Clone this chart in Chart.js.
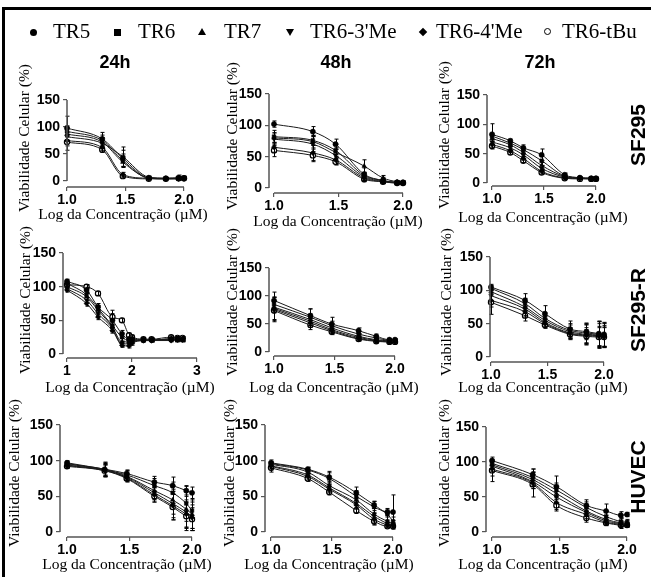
<!DOCTYPE html>
<html>
<head>
<meta charset="utf-8">
<script src="https://cdn.jsdelivr.net/npm/chart.js@4.4.1/dist/chart.umd.min.js"></script>
<style>
body { margin: 0; background: #fff; }
#fig { position: relative; width: 651px; height: 577px; overflow: hidden; background: #fff; }
#fig canvas { position: absolute; }
.lg { position: absolute; top: 20px; font-family: "Liberation Serif", serif; font-size: 21px; line-height: 22px; color: #000; white-space: nowrap; }
.mk { position: absolute; }
.col { position: absolute; top: 52px; font: bold 18px "Liberation Sans", Arial, sans-serif; transform: translateX(-50%); }
.row { position: absolute; font: bold 21px "Liberation Sans", Arial, sans-serif; transform: translate(-50%, -50%) rotate(-90deg); white-space: nowrap; }
.frameTop { position: absolute; left: 3px; top: 7px; width: 660px; height: 2.5px; background: #000; }
.frameLeft { position: absolute; left: 2px; top: 7px; width: 3px; height: 580px; background: #000; }
</style>
</head>
<body>
<div id="fig">
  <div class="frameTop"></div>
  <div class="frameLeft"></div>
</div>
<script>
const seriesNames = ['TR5', 'TR6', 'TR7', "TR6-3'Me", "TR6-4'Me", 'TR6-tBu'];
const timeLabels = ['24h', '48h', '72h'];
const cellLines = ['SF295', 'SF295-R', 'HUVEC'];
const yTicks = [0, 50, 100, 150];
const xTicks = [1, 1.5, 2];
const xTicksWide = [1, 2, 3];

// log10 of the concentrations (uM)
const logConc = [1, 1.301, 1.477, 1.699, 1.845, 1.954, 2];
const logConc15 = [1, 1.176, 1.301, 1.477, 1.699, 1.845, 1.954, 2];
const logConcWide = [1, 1.301, 1.477, 1.699, 1.845, 1.954, 2, 2.176, 2.301, 2.602, 2.699, 2.778];

// rows: TR5, TR6, TR7, TR6-3'Me, TR6-4'Me, TR6-tBu
const sf295_24 = [
  [98, 78, 42, 6, 5, 5, 5],
  [92, 75, 38, 5, 4, 4, 4],
  [87, 72, 35, 6, 5, 5, 5],
  [82, 70, 45, 7, 5, 6, 6],
  [75, 62, 12, 5, 4, 4, 4],
  [72, 58, 9, 4, 4, 5, 5]
];
const sf295_24_sd = [
  [22, 12, 15, 2, 1, 2, 2],
  [10, 10, 12, 2, 1, 1, 1],
  [12, 8, 10, 1, 1, 1, 1],
  [8, 10, 18, 2, 1, 5, 3],
  [10, 6, 4, 1, 1, 1, 1],
  [15, 5, 3, 1, 1, 2, 2]
];
const sf295_48 = [
  [102, 90, 70, 22, 12, 9, 9],
  [82, 76, 60, 20, 12, 9, 9],
  [80, 74, 57, 35, 16, 10, 9],
  [78, 70, 52, 18, 11, 9, 8],
  [65, 56, 45, 16, 10, 8, 8],
  [60, 52, 42, 14, 10, 8, 8]
];
const sf295_48_sd = [
  [5, 8, 8, 10, 5, 2, 2],
  [10, 8, 10, 5, 3, 2, 2],
  [8, 10, 8, 10, 4, 2, 2],
  [10, 12, 10, 5, 3, 2, 1],
  [8, 12, 8, 4, 2, 2, 1],
  [10, 10, 5, 4, 2, 1, 1]
];
const sf295_72 = [
  [83, 72, 60, 48, 14, 9, 8, 8],
  [80, 68, 57, 38, 12, 9, 8, 8],
  [76, 65, 52, 30, 11, 8, 8, 8],
  [70, 60, 48, 25, 10, 8, 8, 8],
  [66, 55, 42, 20, 9, 8, 7, 7],
  [63, 52, 38, 18, 8, 7, 7, 7]
];
const sf295_72_sd = [
  [18, 3, 5, 10, 3, 2, 2, 2],
  [5, 3, 4, 8, 3, 1, 1, 1],
  [5, 3, 4, 5, 2, 1, 1, 1],
  [5, 3, 3, 4, 2, 1, 1, 1],
  [5, 3, 3, 3, 2, 1, 1, 1],
  [5, 3, 3, 3, 2, 1, 1, 1]
];
const sf295r_24 = [
  [108, 95, 70, 50, 30, 22, 22, 21, 21, 22, 22, 22],
  [105, 88, 68, 42, 25, 20, 20, 21, 21, 22, 21, 21],
  [100, 85, 65, 40, 18, 18, 19, 20, 20, 21, 20, 20],
  [97, 80, 60, 38, 15, 15, 18, 20, 20, 23, 22, 22],
  [95, 75, 55, 35, 13, 12, 16, 20, 20, 20, 21, 21],
  [103, 100, 90, 55, 50, 28, 25, 22, 22, 25, 24, 24]
];
const sf295r_24_sd = [
  [3, 4, 5, 15, 5, 3, 3, 2, 2, 2, 2, 2],
  [3, 4, 4, 8, 6, 4, 3, 2, 2, 2, 2, 2],
  [3, 5, 4, 6, 5, 4, 3, 2, 2, 2, 2, 2],
  [3, 4, 5, 5, 4, 3, 3, 2, 2, 2, 2, 2],
  [3, 4, 4, 4, 3, 3, 3, 2, 2, 2, 2, 2],
  [3, 3, 3, 5, 3, 3, 3, 2, 2, 2, 2, 2]
];
const sf295r_48 = [
  [92, 65, 50, 38, 28, 22, 22],
  [85, 62, 47, 32, 25, 21, 21],
  [80, 58, 43, 28, 22, 20, 20],
  [78, 55, 40, 26, 21, 19, 19],
  [76, 52, 38, 24, 20, 18, 18],
  [74, 48, 36, 23, 19, 18, 18]
];
const sf295r_48_sd = [
  [15, 12, 12, 5, 4, 2, 2],
  [12, 15, 8, 5, 4, 2, 2],
  [10, 10, 8, 4, 3, 2, 2],
  [20, 8, 6, 4, 3, 2, 2],
  [22, 8, 5, 4, 3, 2, 2],
  [18, 8, 5, 3, 3, 2, 2]
];
const sf295r_72 = [
  [105, 85, 65, 42, 38, 35, 34],
  [103, 80, 58, 40, 36, 34, 33],
  [98, 75, 55, 38, 34, 33, 32],
  [92, 72, 52, 36, 33, 32, 31],
  [85, 68, 50, 35, 32, 31, 30],
  [82, 62, 48, 34, 31, 30, 30]
];
const sf295r_72_sd = [
  [4, 10, 12, 12, 12, 18, 18],
  [4, 8, 8, 10, 15, 20, 18],
  [5, 8, 6, 10, 15, 20, 18],
  [8, 10, 6, 8, 15, 18, 16],
  [10, 8, 6, 8, 12, 15, 15],
  [18, 8, 5, 8, 10, 14, 14]
];
const huvec_24 = [
  [97, 88, 82, 70, 65, 58, 55],
  [96, 87, 80, 65, 55, 40, 30],
  [95, 88, 78, 58, 45, 32, 25],
  [94, 86, 77, 55, 40, 28, 22],
  [93, 87, 76, 52, 37, 25, 20],
  [92, 86, 75, 50, 35, 22, 18]
];
const huvec_24_sd = [
  [3, 10, 5, 8, 12, 6, 8],
  [3, 10, 6, 10, 15, 25, 25],
  [3, 8, 6, 12, 20, 25, 20],
  [3, 8, 5, 10, 20, 22, 20],
  [3, 8, 5, 10, 20, 20, 18],
  [3, 8, 5, 8, 18, 20, 16]
];
const huvec_48 = [
  [97, 88, 77, 55, 38, 28, 28],
  [96, 87, 75, 50, 35, 25, 15],
  [95, 84, 65, 45, 25, 15, 12],
  [93, 80, 62, 40, 22, 12, 10],
  [92, 78, 60, 38, 18, 10, 9],
  [90, 75, 56, 30, 15, 8, 8]
];
const huvec_48_sd = [
  [4, 3, 8, 8, 5, 3, 24],
  [3, 3, 8, 8, 8, 8, 6],
  [3, 3, 6, 8, 8, 6, 4],
  [4, 4, 5, 6, 8, 4, 3],
  [5, 4, 5, 6, 8, 3, 3],
  [6, 4, 4, 4, 5, 2, 2]
];
const huvec_72 = [
  [102, 82, 65, 38, 30, 24, 25],
  [98, 78, 60, 35, 22, 15, 14],
  [96, 75, 55, 30, 18, 13, 12],
  [94, 72, 50, 28, 16, 12, 11],
  [90, 70, 42, 25, 14, 11, 10],
  [88, 68, 38, 20, 13, 10, 10]
];
const huvec_72_sd = [
  [5, 8, 15, 8, 10, 5, 3],
  [5, 12, 10, 8, 8, 5, 4],
  [5, 10, 8, 8, 6, 8, 4],
  [8, 10, 8, 6, 5, 4, 3],
  [10, 8, 10, 6, 4, 3, 3],
  [16, 18, 8, 6, 4, 3, 3]
];

const pointStyles = ['circle', 'rect', 'triangle', 'triangle', 'rectRot', 'circle'];
const fig = document.getElementById('fig');

// panel placement in page pixels
const panels = [
  { x: logConc, y: sf295_24, sd: sf295_24_sd, ticks: xTicks, yl: 67, x1: 67, x2: 184, p150: 100, p0: 181, xa: 187, yt: [25, 138], xt: [123, 215] },
  { x: logConc, y: sf295_48, sd: sf295_48_sd, ticks: xTicks, yl: 269, x1: 274, x2: 403, p150: 94, p0: 188, xa: 193, yt: [233, 136], xt: [338, 222] },
  { x: logConc15, y: sf295_72, sd: sf295_72_sd, ticks: xTicks, yl: 487, x1: 492, x2: 596, p150: 95, p0: 183, xa: 186, yt: [445, 135], xt: [543, 218] },
  { x: logConcWide, y: sf295r_24, sd: sf295r_24_sd, ticks: xTicksWide, yl: 63, x1: 67, x2: 197, p150: 253, p0: 354, xa: 358, yt: [26, 300], xt: [130, 388] },
  { x: logConc, y: sf295r_48, sd: sf295r_48_sd, ticks: xTicks, yl: 269, x1: 274, x2: 395, p150: 268, p0: 352, xa: 356, yt: [233, 302], xt: [334, 388] },
  { x: logConc, y: sf295r_72, sd: sf295r_72_sd, ticks: xTicks, yl: 490, x1: 491, x2: 604, p150: 257, p0: 357, xa: 362, yt: [447, 302], xt: [543, 388] },
  { x: logConc, y: huvec_24, sd: huvec_24_sd, ticks: xTicks, yl: 60, x1: 67, x2: 192, p150: 425, p0: 532, xa: 537, yt: [15, 473], xt: [127, 565] },
  { x: logConc, y: huvec_48, sd: huvec_48_sd, ticks: xTicks, yl: 265, x1: 271, x2: 393, p150: 425, p0: 532, xa: 537, yt: [230, 473], xt: [329, 565] },
  { x: logConc, y: huvec_72, sd: huvec_72_sd, ticks: xTicks, yl: 486, x1: 492, x2: 627, p150: 427, p0: 532, xa: 537, yt: [445, 473], xt: [543, 565] }
];

const errorBars = {
  id: 'errorBars',
  afterDatasetsDraw(chart) {
    const { ctx, scales: { x, y } } = chart;
    ctx.save();
    ctx.strokeStyle = '#000';
    ctx.lineWidth = 1;
    chart.data.datasets.forEach(ds => {
      ds.data.forEach((pt, j) => {
        const e = ds.sd[j];
        if (!e) return;
        const px = Math.round(x.getPixelForValue(pt.x)) + 0.5;
        const yt = y.getPixelForValue(pt.y + e);
        const yb = y.getPixelForValue(pt.y - e);
        ctx.beginPath();
        ctx.moveTo(px, yt); ctx.lineTo(px, yb);
        ctx.moveTo(px - 2, yt); ctx.lineTo(px + 2, yt);
        ctx.moveTo(px - 2, yb); ctx.lineTo(px + 2, yb);
        ctx.stroke();
      });
    });
    ctx.restore();
  }
};

function axesAndTitles(p, L, T, top) {
  return {
    id: 'axesAndTitles',
    afterDraw(chart) {
      const { ctx, chartArea, scales: { x, y } } = chart;
      ctx.save();
      ctx.strokeStyle = '#555';
      ctx.lineWidth = 1.5;
      ctx.beginPath();
      ctx.moveTo(chartArea.left, y.getPixelForValue(150));
      ctx.lineTo(chartArea.left, y.getPixelForValue(0));
      ctx.moveTo(x.getPixelForValue(1), chartArea.bottom);
      ctx.lineTo(x.getPixelForValue(top), chartArea.bottom);
      ctx.stroke();

      ctx.fillStyle = '#000';
      ctx.font = '15.5px "Liberation Serif", serif';
      ctx.textAlign = 'center';
      ctx.textBaseline = 'middle';
      ctx.fillText('Log da Concentração (µM)', p.xt[0] - L, p.xt[1] - T);
      ctx.translate(p.yt[0] - L, p.yt[1] - T);
      ctx.rotate(-Math.PI / 2);
      ctx.fillText('Viabilidade Celular (%)', 0, 0);
      ctx.restore();
    }
  };
}

const tickFont = { family: '"Liberation Sans", Arial, sans-serif', weight: 'bold', size: 14 };

panels.forEach(p => {
  const top = p.ticks[p.ticks.length - 1];
  const L = p.yl - 60, T = p.p150 - 70;
  const W = p.x2 + 58 - L, H = p.xa + 45 - T;
  const cv = document.createElement('canvas');
  cv.width = W; cv.height = H;
  cv.style.left = L + 'px'; cv.style.top = T + 'px';
  fig.appendChild(cv);

  const kx = (p.x2 - p.x1) / (top - 1);
  const ky = (p.p0 - p.p150) / 150;

  new Chart(cv, {
    type: 'line',
    data: {
      datasets: p.y.map((vals, i) => ({
        label: seriesNames[i],
        data: vals.map((v, j) => ({ x: p.x[j], y: v })),
        sd: p.sd[i],
        borderColor: '#1a1a1a',
        borderWidth: 1,
        cubicInterpolationMode: 'monotone',
        pointStyle: pointStyles[i],
        pointRotation: i === 3 ? 180 : 0,
        pointRadius: 2.6,
        pointBackgroundColor: i === 5 ? '#fff' : '#000',
        pointBorderColor: '#000',
        pointBorderWidth: i === 5 ? 1.2 : 0.5,
        clip: false
      }))
    },
    options: {
      responsive: false,
      animation: false,
      events: [],
      layout: { padding: { left: 0, top: 70, right: 50, bottom: 0 } },
      plugins: { legend: { display: false }, tooltip: { enabled: false } },
      scales: {
        x: {
          type: 'linear',
          min: 1 - (p.x1 - p.yl) / kx,
          max: top + 8 / kx,
          afterFit: s => { s.height = 45; },
          afterBuildTicks: s => { s.ticks = p.ticks.map(v => ({ value: v })); },
          grid: { drawOnChartArea: false, drawTicks: true, tickLength: 4, color: '#555', lineWidth: 1.2 },
          border: { display: false },
          ticks: {
            font: tickFont, color: '#000', padding: 1, maxRotation: 0, autoSkip: false,
            callback: v => top === 3 ? String(v) : v.toFixed(1)
          }
        },
        y: {
          min: -(p.xa - p.p0) / ky,
          max: 150,
          afterFit: s => { s.width = 60; },
          afterBuildTicks: s => { s.ticks = yTicks.map(v => ({ value: v })); },
          grid: { drawOnChartArea: false, drawTicks: true, tickLength: 4, color: '#555', lineWidth: 1.2 },
          border: { display: false },
          ticks: { font: tickFont, color: '#000', padding: 3, autoSkip: false }
        }
      }
    },
    plugins: [errorBars, axesAndTitles(p, L, T, top)]
  });
});

// legend
const legendMarkX = [33, 117, 202, 290, 423, 548];
const legendTextX = [53, 138, 224, 310, 436, 562];
seriesNames.forEach((name, i) => {
  const mk = document.createElement('div');
  mk.className = 'mk';
  const cx = legendMarkX[i], cy = 32;
  let css = '';
  if (i === 0) css = `left:${cx - 3.5}px;top:${cy - 3.5}px;width:7px;height:7px;border-radius:50%;background:#000;`;
  if (i === 1) css = `left:${cx - 3.5}px;top:${cy - 3.5}px;width:7px;height:7px;background:#000;`;
  if (i === 2) css = `left:${cx - 4}px;top:${cy - 4}px;width:0;height:0;border-left:4px solid transparent;border-right:4px solid transparent;border-bottom:7px solid #000;`;
  if (i === 3) css = `left:${cx - 4}px;top:${cy - 3}px;width:0;height:0;border-left:4px solid transparent;border-right:4px solid transparent;border-top:7px solid #000;`;
  if (i === 4) css = `left:${cx - 3}px;top:${cy - 3}px;width:6px;height:6px;background:#000;transform:rotate(45deg);`;
  if (i === 5) css = `left:${cx - 4}px;top:${cy - 4}px;width:5px;height:5px;border:1.5px solid #000;border-radius:50%;`;
  mk.style.cssText = css;
  fig.appendChild(mk);
  const t = document.createElement('div');
  t.className = 'lg';
  t.style.left = legendTextX[i] + 'px';
  t.textContent = name;
  fig.appendChild(t);
});

// column and row headers
const colX = [115, 336, 540];
timeLabels.forEach((s, i) => {
  const d = document.createElement('div');
  d.className = 'col';
  d.style.left = colX[i] + 'px';
  d.textContent = s;
  fig.appendChild(d);
});
const rowY = [135, 310, 477];
cellLines.forEach((s, i) => {
  const d = document.createElement('div');
  d.className = 'row';
  d.style.left = '638px';
  d.style.top = rowY[i] + 'px';
  d.textContent = s;
  fig.appendChild(d);
});
</script>
</body>
</html>
